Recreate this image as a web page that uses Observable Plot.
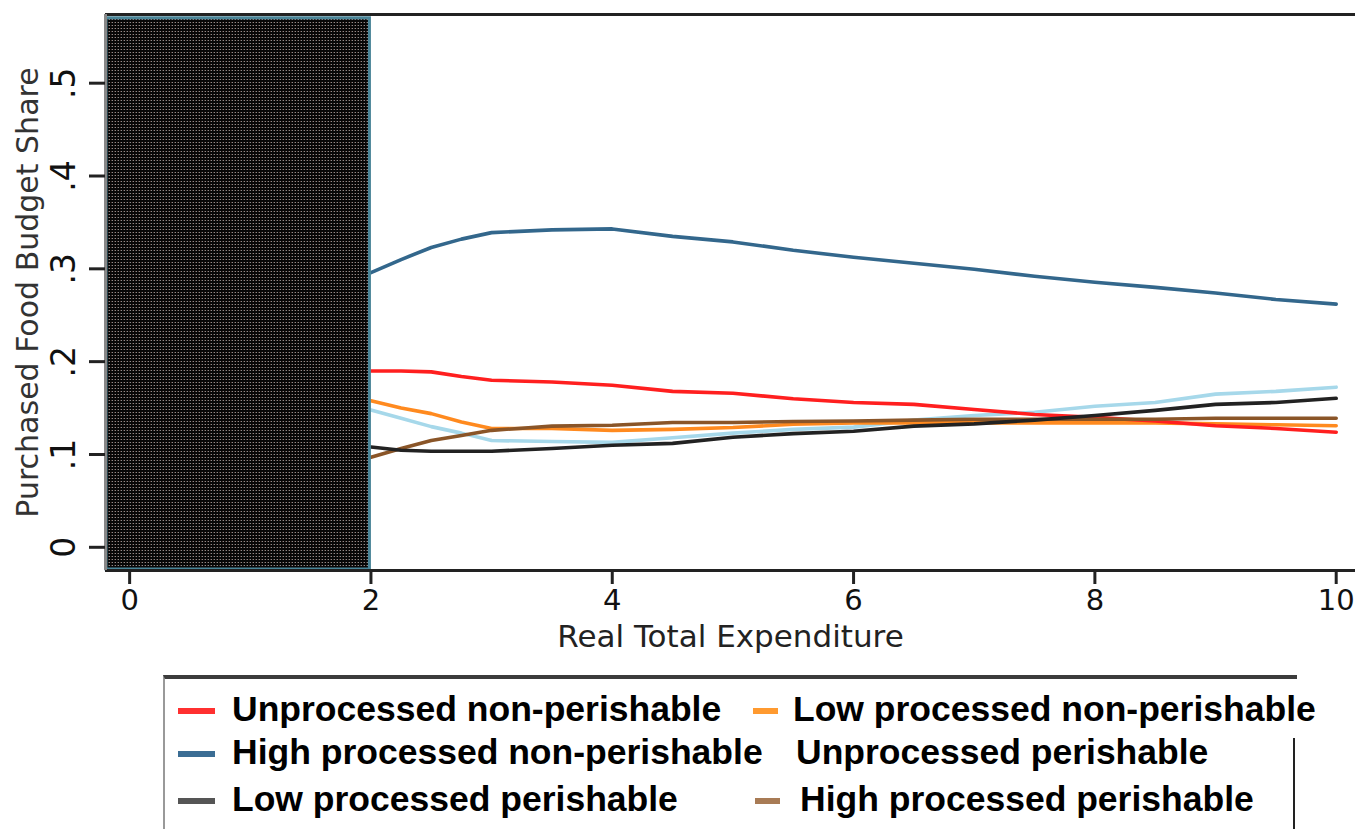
<!DOCTYPE html>
<html>
<head>
<meta charset="utf-8">
<script src="https://cdn.jsdelivr.net/npm/d3@7"></script>
<script src="https://cdn.jsdelivr.net/npm/@observablehq/plot@0.6"></script>
<style>
  html, body { margin: 0; padding: 0; background: #fff; width: 1355px; height: 829px; overflow: hidden; }
  #chart { position: absolute; left: 0; top: 0; }
  .leg { position: absolute; font-family: "Liberation Sans", Arial, sans-serif; font-weight: bold; font-size: 35.5px; color: #000; white-space: nowrap; line-height: 1; }
  .sw { position: absolute; height: 6px; }
</style>
</head>
<body>
<div id="chart"></div>
<div id="legend"></div>
<script>
// ---- data ----
const expenditure = [2, 2.25, 2.5, 2.75, 3, 3.5, 4, 4.5, 5, 5.5, 6, 6.5, 7, 7.5, 8, 8.5, 9, 9.5, 10];
const unprocessedNonPerishable = [.190, .190, .189, .184, .180, .178, .1745, .168, .166, .160, .156, .154, .1485, .143, .140, .136, .131, .128, .124];
const lowProcessedNonPerishable = [.158, .150, .144, .135, .128, .128, .126, .127, .129, .1325, .134, .134, .134, .134, .134, .134, .133, .132, .131];
const highProcessedNonPerishable = [.296, .310, .323, .332, .339, .342, .343, .335, .329, .320, .3125, .306, .2995, .292, .2855, .280, .274, .267, .262];
const unprocessedPerishable = [.148, .139, .130, .123, .115, .114, .113, .118, .123, .127, .1295, .137, .142, .1455, .152, .156, .165, .168, .1725];
const lowProcessedPerishable = [.108, .1045, .1035, .1035, .1035, .1065, .110, .112, .1185, .1225, .125, .1305, .133, .137, .142, .1475, .154, .156, .1605];
const highProcessedPerishable = [.097, .1065, .115, .1205, .126, .1305, .1315, .1345, .1345, .1355, .136, .137, .138, .138, .138, .138, .139, .139, .139];
const seriesNames = ["Unprocessed non-perishable", "Low processed non-perishable", "High processed non-perishable", "Unprocessed perishable", "Low processed perishable", "High processed perishable"];
const seriesValues = [unprocessedNonPerishable, lowProcessedNonPerishable, highProcessedNonPerishable, unprocessedPerishable, lowProcessedPerishable, highProcessedPerishable];
const xTicks = [0, 2, 4, 6, 8, 10];
const yTicks = [0, .1, .2, .3, .4, .5];
const shadedRange = [-0.2, 2];

// ---- styles ----
const lineColors = {
  "Unprocessed non-perishable": "#ff1f1f",
  "Low processed non-perishable": "#ff8a1f",
  "High processed non-perishable": "#33678c",
  "Unprocessed perishable": "#a6d8ea",
  "Low processed perishable": "#222222",
  "High processed perishable": "#8a5528"
};
const drawOrder = ["Unprocessed perishable", "Low processed non-perishable", "Unprocessed non-perishable", "High processed perishable", "Low processed perishable", "High processed non-perishable"];

const rows = [];
seriesNames.forEach((name, i) => {
  expenditure.forEach((x, j) => rows.push({series: name, x, y: seriesValues[i][j]}));
});

const X0 = -0.2, X1 = 10.16, Y0 = -0.025, Y1 = 0.574;
const axisFont = "DejaVu Sans, Verdana, sans-serif";

const plot = Plot.plot({
  width: 1355,
  height: 660,
  marginTop: 14,
  marginLeft: 105,
  marginRight: 0,
  marginBottom: 90,
  style: {fontFamily: axisFont, color: "#222", background: "#fff"},
  x: {domain: [X0, X1]},
  y: {domain: [Y0, Y1]},
  marks: [
    ...drawOrder.map(name => Plot.line(rows.filter(r => r.series === name), {x: "x", y: "y", stroke: lineColors[name], strokeWidth: 3.6})),
    Plot.rect([shadedRange], {x1: d => d[0], x2: d => d[1], y1: Y0, y2: Y1 - 0.003, fill: "url(#densePat)", stroke: "#4a8598", strokeWidth: 3, inset: 1}),
    Plot.ruleY([Y1], {stroke: "#222", strokeWidth: 3}),
    Plot.ruleY([Y0], {stroke: "#222", strokeWidth: 3}),
    Plot.ruleX([X0], {stroke: "#888", strokeWidth: 3}),
    Plot.axisX({ticks: xTicks, tickSize: 14, tickPadding: 5, fontSize: 29, strokeWidth: 3, stroke: "#222", fill: "#111", label: null, tickFormat: d => String(d)}),
    Plot.axisY({ticks: yTicks, tickSize: 16, tickPadding: 15, fontSize: 33, strokeWidth: 3, stroke: "#222", fill: "#111", tickRotate: -90, label: null,
      tickFormat: d => d === 0 ? "0" : d3.format(".1f")(d).replace(/^0/, "")}),
    Plot.text(["Real Total Expenditure"], {frameAnchor: "bottom", dy: 76, fontSize: 31, fill: "#222", text: d => d}),
    Plot.text(["Purchased Food Budget Share"], {frameAnchor: "left", textAnchor: "middle", dx: -77, rotate: -90, fontSize: 30, fill: "#333", text: d => d})
  ]
});

// dense pattern for the shaded box
const ns = "http://www.w3.org/2000/svg";
const defs = document.createElementNS(ns, "defs");
defs.innerHTML = `<pattern id="densePat" width="3" height="3" patternUnits="userSpaceOnUse">
  <rect width="3" height="3" fill="#070707"/>
  <rect x="1" y="1" width="1" height="1" fill="#8c8c8c"/>
  <rect x="0" y="1" width="1" height="1" fill="#4a3530"/>
</pattern>`;
plot.insertBefore(defs, plot.firstChild);
document.getElementById("chart").appendChild(plot);

// ---- legend ----
const legendColors = {
  "Unprocessed non-perishable": "#ff3030",
  "Low processed non-perishable": "#ff9a30",
  "High processed non-perishable": "#3b6d94",
  "Unprocessed perishable": null,
  "Low processed perishable": "#555555",
  "High processed perishable": "#a87b55"
};
const leg = document.getElementById("legend");
const box = document.createElement("div");
box.style.cssText = "position:absolute;left:163px;top:675px;width:1134px;height:170px;border-top:4px solid #3c3c3c;border-left:2px solid #999;box-sizing:border-box;";
leg.appendChild(box);
const rb = document.createElement("div");
rb.style.cssText = "position:absolute;left:1293px;top:738px;width:2px;height:100px;background:#222;";
leg.appendChild(rb);
const slots = [
  {sx: 178, tx: 232, cy: 711}, {sx: 753, tx: 793, cy: 711},
  {sx: 178, tx: 232, cy: 754}, {sx: 755, tx: 796, cy: 754},
  {sx: 178, tx: 232, cy: 801}, {sx: 755, tx: 800, cy: 801}
];
seriesNames.forEach((name, i) => {
  const s = slots[i];
  const c = legendColors[name];
  if (c) {
    const sw = document.createElement("div");
    sw.className = "sw";
    sw.style.left = s.sx + "px";
    sw.style.top = (s.cy - 3) + "px";
    sw.style.width = (i % 2 === 0 ? 37 : 25) + "px";
    sw.style.background = c;
    leg.appendChild(sw);
  }
  const t = document.createElement("div");
  t.className = "leg";
  t.textContent = name;
  t.style.left = s.tx + "px";
  t.style.top = (s.cy - 19) + "px";
  leg.appendChild(t);
});
</script>
</body>
</html>
